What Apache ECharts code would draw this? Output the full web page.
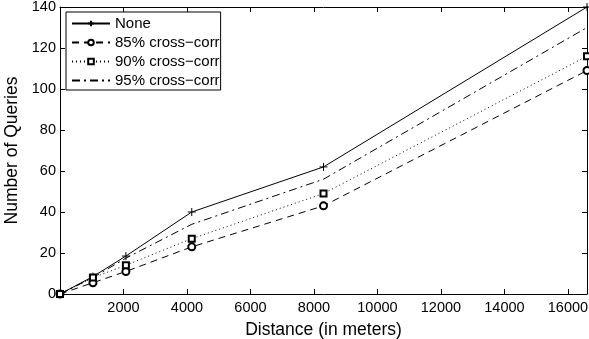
<!DOCTYPE html>
<html>
<head>
<meta charset="utf-8">
<script src="https://cdn.jsdelivr.net/npm/echarts@6/dist/echarts.min.js"></script>
<style>
  html, body { margin: 0; padding: 0; background: #fff; }
  #main { width: 589px; height: 339px; }
</style>
</head>
<body>
<div id="main"></div>
<script>
// distances (m)
const distances = [0, 1037.5, 2075, 4150, 8300, 16600]
// number of queries per setting
const noneVals = [0, 8.5, 18.5, 40, 62, 140]
const cc85Vals = [0, 5.5, 11, 23, 43, 109]
const cc90Vals = [0, 8, 14, 27, 49, 116]
const cc95Vals = [0, 8, 17.5, 34, 56, 130]
const seriesNames = ['None', '85% cross\u2212corr', '90% cross\u2212corr', '95% cross\u2212corr']
const xTicks = [2000, 4000, 6000, 8000, 10000, 12000, 14000, 16000]

const FONT = 'Liberation Sans'
const pair = (vals) => distances.map((d, i) => [d, vals[i]])

const plusPath = 'path://M0,5L10,5M5,0L5,10'

const myChart = echarts.init(document.getElementById('main'), null, { renderer: 'canvas' })

const axisCommon = {
  axisLine: { show: true, onZero: false, lineStyle: { color: '#000', width: 1 } },
  axisTick: { show: true, inside: true, length: 5, lineStyle: { color: '#000' } },
  splitLine: { show: false },
}

const option = {
  animation: false,
  backgroundColor: '#fff',
  grid: { left: 60, right: 2, top: 7, bottom: 45, containLabel: false, outerBoundsMode: 'none' },
  legend: {
    left: 66,
    top: 12,
    orient: 'vertical',
    itemWidth: 38,
    itemHeight: 7,
    itemGap: 4,
    padding: [4, 1, 2, 5],
    backgroundColor: '#fff',
    borderColor: '#000',
    borderWidth: 1,
    borderRadius: 0,
    textStyle: { fontFamily: FONT, fontSize: 15, color: '#000' },
    data: [
      seriesNames[0],
      seriesNames[1],
      seriesNames[2],
      { name: seriesNames[3], itemStyle: { opacity: 0 } },
    ],
  },
  xAxis: [
    {
      type: 'value',
      min: 0,
      max: 16600,
      interval: 2000,
      name: 'Distance (in meters)',
      nameLocation: 'middle',
      nameGap: 27,
      nameTextStyle: { fontFamily: FONT, fontSize: 17.5, color: '#000' },
      axisLabel: {
        fontFamily: FONT, fontSize: 14.5, color: '#000', margin: 6,
        formatter: (v) => (xTicks.includes(v) ? String(v) : ''),
      },
      ...axisCommon,
    },
    {
      type: 'value',
      position: 'top',
      min: 0,
      max: 16600,
      interval: 2000,
      axisLabel: { show: false },
      ...axisCommon,
    },
  ],
  yAxis: [
    {
      type: 'value',
      min: 0,
      max: 140,
      interval: 20,
      name: 'Number of Queries',
      nameLocation: 'middle',
      nameGap: 32,
      nameTextStyle: { fontFamily: FONT, fontSize: 17.5, color: '#000' },
      axisLabel: { fontFamily: FONT, fontSize: 14.5, color: '#000', margin: 4 },
      ...axisCommon,
    },
    {
      type: 'value',
      position: 'right',
      min: 0,
      max: 140,
      interval: 20,
      axisLabel: { show: false },
      ...axisCommon,
    },
  ],
  series: [
    {
      name: seriesNames[0],
      type: 'line',
      data: pair(noneVals),
      symbol: plusPath,
      symbolSize: 8,
      itemStyle: { color: '#000', borderColor: '#000', borderWidth: 1 },
      lineStyle: { color: '#000', width: 1, type: 'solid' },
    },
    {
      name: seriesNames[1],
      type: 'line',
      data: pair(cc85Vals),
      symbol: 'emptyCircle',
      symbolSize: 7,
      itemStyle: { color: '#000', borderColor: '#000', borderWidth: 0.8 },
      lineStyle: { color: '#000', width: 1, type: [7, 5] },
    },
    {
      name: seriesNames[2],
      type: 'line',
      data: pair(cc90Vals),
      symbol: 'emptyRect',
      symbolSize: 6,
      itemStyle: { color: '#000', borderColor: '#000', borderWidth: 0.8 },
      lineStyle: { color: '#000', width: 1, type: [1, 3] },
    },
    {
      name: seriesNames[3],
      type: 'line',
      data: pair(cc95Vals),
      symbol: 'none',
      itemStyle: { color: '#000' },
      lineStyle: { color: '#000', width: 1, type: [8, 4, 2, 4] },
    },
  ],
}

option && myChart.setOption(option)
</script>
</body>
</html>
